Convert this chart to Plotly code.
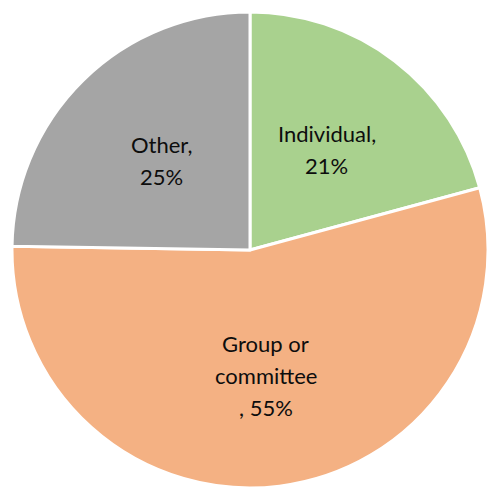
import math
import plotly.graph_objects as go

# Share of responses by type of submitter
categories = ["Individual", "Group or committee", "Other"]
percents = [21, 55, 25]
colors = ["#A9D18E", "#F4B183", "#A5A5A5"]
# wrapped data-label lines; "{}" receives the percentage
label_lines = [
    ["Individual,", "{}%"],
    ["Group or", "committee", ", {}%"],
    ["Other,", "{}%"],
]

W, H = 488, 491
R = 238            # pie radius in px
CX, CY = 250, 250  # pie centre in px (from top-left)

fig = go.Figure(
    go.Pie(
        labels=categories,
        values=percents,
        sort=False,
        direction="clockwise",
        rotation=0,
        marker=dict(colors=colors, line=dict(color="white", width=3)),
        textinfo="none",
        hoverinfo="label+value",
        showlegend=False,
        domain=dict(
            x=[(CX - R) / W, (CX + R) / W],
            y=[(H - CY - R) / H, (H - CY + R) / H],
        ),
    )
)

# data labels placed along each slice's mid angle, about half way out
total = sum(percents)
start = 0.0
annotations = []
line_gap = 32
for pct, lines in zip(percents, label_lines):
    frac = pct / total
    mid = (start + frac / 2) * 2 * math.pi
    start += frac
    px = CX + 0.53 * R * math.sin(mid)
    py = CY - 0.53 * R * math.cos(mid)
    n = len(lines)
    for i, ln in enumerate(lines):
        offset = (i - (n - 1) / 2) * line_gap
        annotations.append(
            dict(
                x=px / W,
                y=(H - py) / H,
                xref="paper",
                yref="paper",
                text=ln.format(pct),
                showarrow=False,
                xanchor="center",
                yanchor="middle",
                yshift=-offset,
                font=dict(family="Lato", size=22, color="#0d0d0d"),
            )
        )

fig.update_layout(
    width=W,
    height=H,
    margin=dict(l=0, r=0, t=0, b=0),
    paper_bgcolor="white",
    plot_bgcolor="white",
    annotations=annotations,
)

fig.write_html("out.html")
